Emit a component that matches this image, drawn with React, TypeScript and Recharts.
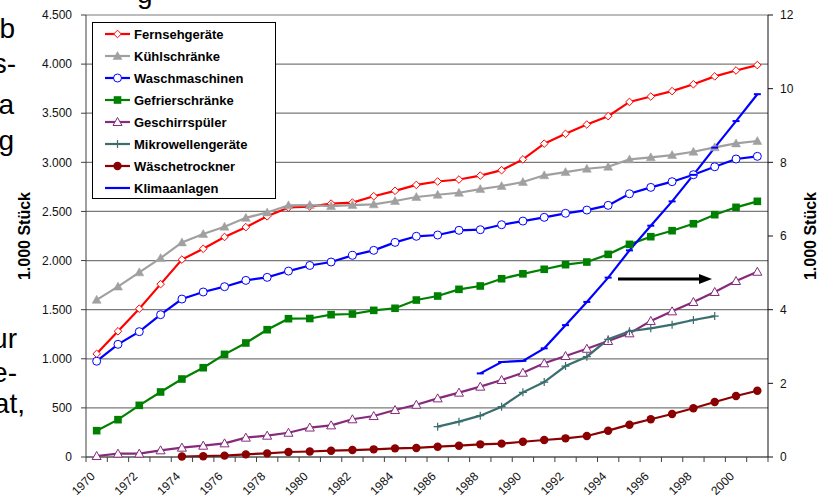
import { CartesianGrid, Line, LineChart, XAxis, YAxis } from 'recharts';

const years = [
  '1970', '1971', '1972', '1973', '1974', '1975', '1976', '1977', '1978', '1979',
  '1980', '1981', '1982', '1983', '1984', '1985', '1986', '1987', '1988', '1989',
  '1990', '1991', '1992', '1993', '1994', '1995', '1996', '1997', '1998', '1999',
  '2000', '2001',
];

const fernseh = [1050, 1280, 1510, 1760, 2010, 2120, 2240, 2340, 2450, 2540, 2550, 2580, 2590, 2655, 2710, 2770, 2805, 2825, 2865, 2920, 3030, 3190, 3290, 3385, 3470, 3615, 3670, 3725, 3795, 3875, 3935, 3990];
const kuehl = [1600, 1735, 1880, 2025, 2185, 2270, 2345, 2435, 2490, 2562, 2565, 2555, 2565, 2572, 2606, 2647, 2670, 2690, 2728, 2759, 2800, 2868, 2901, 2935, 2955, 3030, 3051, 3074, 3108, 3153, 3193, 3217];
const wasch = [975, 1147, 1276, 1449, 1608, 1680, 1734, 1798, 1829, 1893, 1950, 1985, 2053, 2104, 2185, 2247, 2260, 2308, 2314, 2365, 2402, 2440, 2481, 2514, 2562, 2680, 2745, 2803, 2874, 2955, 3034, 3061];
const gefrier = [268, 380, 526, 662, 794, 909, 1045, 1161, 1296, 1408, 1410, 1449, 1456, 1493, 1514, 1598, 1639, 1707, 1741, 1815, 1865, 1911, 1958, 1985, 2063, 2165, 2243, 2304, 2375, 2467, 2542, 2603];
const geschirr = [10, 34, 34, 68, 95, 115, 139, 197, 217, 247, 300, 322, 384, 417, 478, 532, 597, 655, 716, 784, 858, 954, 1028, 1102, 1181, 1259, 1385, 1483, 1578, 1680, 1792, 1886];
const mikro = [null, null, null, null, null, null, null, null, null, null, null, null, null, null, null, null, 309, 360, 421, 512, 658, 763, 926, 1021, 1198, 1280, 1310, 1347, 1395, 1435, null, null];
const trockner = [null, null, null, null, 5, 8, 14, 27, 37, 51, 56, 64, 71, 78, 88, 92, 105, 115, 129, 136, 155, 173, 190, 214, 268, 329, 384, 438, 496, 560, 621, 675];
// Klimaanlagen auf der rechten Achse
const klima = [null, null, null, null, null, null, null, null, null, null, null, null, null, null, null, null, null, null, 2.27, 2.58, 2.61, 2.95, 3.58, 4.21, 4.87, 5.61, 6.28, 6.94, 7.66, 8.4, 9.12, 9.85];

const leftTicks = [0, 500, 1000, 1500, 2000, 2500, 3000, 3500, 4000, 4500];
const rightTicks = [0, 2, 4, 6, 8, 10, 12];

const data = years.map((year, i) => ({
  year,
  fernseh: fernseh[i],
  kuehl: kuehl[i],
  wasch: wasch[i],
  gefrier: gefrier[i],
  geschirr: geschirr[i],
  mikro: mikro[i],
  trockner: trockner[i],
  klima: klima[i],
}));

const FONT = '"Liberation Sans", Arial, sans-serif';
const W = 825;
const H = 500;
const PLOT_LEFT = 86;
const PLOT_RIGHT = 768;
const STEP = (PLOT_RIGHT - PLOT_LEFT) / years.length;

type Kind = 'diamond' | 'triangle' | 'circle' | 'square' | 'openTriangle' | 'plus' | 'dot' | 'dash';

const series: { key: string; name: string; color: string; kind: Kind; axis: string }[] = [
  { key: 'fernseh', name: 'Fernsehgeräte', color: '#FF0000', kind: 'diamond', axis: 'left' },
  { key: 'kuehl', name: 'Kühlschränke', color: '#A0A0A0', kind: 'triangle', axis: 'left' },
  { key: 'wasch', name: 'Waschmaschinen', color: '#0000FF', kind: 'circle', axis: 'left' },
  { key: 'gefrier', name: 'Gefrierschränke', color: '#008000', kind: 'square', axis: 'left' },
  { key: 'geschirr', name: 'Geschirrspüler', color: '#852A7C', kind: 'openTriangle', axis: 'left' },
  { key: 'mikro', name: 'Mikrowellengeräte', color: '#3B6E6E', kind: 'plus', axis: 'left' },
  { key: 'trockner', name: 'Wäschetrockner', color: '#8B0000', kind: 'dot', axis: 'left' },
  { key: 'klima', name: 'Klimaanlagen', color: '#0000FF', kind: 'dash', axis: 'right' },
];

function Marker({ kind, cx, cy, color }: { kind: Kind; cx: number; cy: number; color: string }) {
  switch (kind) {
    case 'diamond':
      return (
        <polygon
          points={`${cx},${cy - 3.8} ${cx + 3.8},${cy} ${cx},${cy + 3.8} ${cx - 3.8},${cy}`}
          fill="#fff"
          stroke={color}
          strokeWidth={1}
        />
      );
    case 'triangle':
      return (
        <polygon
          points={`${cx},${cy - 4.5} ${cx + 4.5},${cy + 3.5} ${cx - 4.5},${cy + 3.5}`}
          fill={color}
          stroke={color}
          strokeWidth={0.5}
        />
      );
    case 'circle':
      return <circle cx={cx} cy={cy} r={4} fill="#fff" stroke={color} strokeWidth={1} />;
    case 'square':
      return <rect x={cx - 3.8} y={cy - 3.8} width={7.6} height={7.6} fill={color} />;
    case 'openTriangle':
      return (
        <polygon
          points={`${cx},${cy - 4.5} ${cx + 4.5},${cy + 3.5} ${cx - 4.5},${cy + 3.5}`}
          fill="#fff"
          stroke={color}
          strokeWidth={1}
        />
      );
    case 'plus':
      return (
        <path d={`M${cx - 4},${cy}H${cx + 4}M${cx},${cy - 4}V${cy + 4}`} stroke={color} strokeWidth={1.2} />
      );
    case 'dot':
      return <circle cx={cx} cy={cy} r={4.2} fill={color} />;
    case 'dash':
      return <path d={`M${cx - 3.5},${cy}H${cx + 3.5}`} stroke={color} strokeWidth={2} />;
  }
  return null;
}

function makeDot(kind: Kind, color: string) {
  return (props: any) => {
    const { cx, cy, index, value } = props;
    if (cx == null || cy == null || value == null) return <g key={`e-${index}`} />;
    return (
      <g key={`d-${index}`}>
        <Marker kind={kind} cx={cx} cy={cy} color={color} />
      </g>
    );
  };
}

function fmt(v: number) {
  if (v < 1000) return String(v);
  return `${Math.floor(v / 1000)}.${String(v % 1000).padStart(3, '0')}`;
}

function YearTick(props: any) {
  const { x, y, index, payload } = props;
  const axisY = y - 5;
  return (
    <g>
      <line x1={x - STEP / 2} x2={x - STEP / 2} y1={axisY} y2={axisY + 5} stroke="#404040" />
      {index === years.length - 1 && (
        <line x1={x + STEP / 2} x2={x + STEP / 2} y1={axisY} y2={axisY + 5} stroke="#404040" />
      )}
      {index % 2 === 0 && (
        <text
          transform={`translate(${x - 4},${y + 12}) rotate(-45)`}
          textAnchor="end"
          dy="0.35em"
          fontSize={12}
          fontFamily={FONT}
          fill="#111"
        >
          {payload.value}
        </text>
      )}
    </g>
  );
}

const leftFragments = [
  { t: 'b', x: 15, y: 38 },
  { t: 's-', x: 16, y: 73 },
  { t: 'a', x: 14, y: 114 },
  { t: 'g', x: 14, y: 150 },
  { t: 'ur', x: 17, y: 348 },
  { t: 'e-', x: 17, y: 382 },
  { t: 'at,', x: 25, y: 413 },
];

export default function App() {
  return (
    <div style={{ position: 'absolute', left: 0, top: 0, width: W, height: H, background: '#fff', overflow: 'hidden' }}>
      <LineChart width={W} height={H} data={data} margin={{ top: 15, right: 0, bottom: 0, left: 0 }}>
        <CartesianGrid yAxisId="left" vertical={false} stroke="#7a7a7a" strokeWidth={1.2} />
        <XAxis
          dataKey="year"
          interval={0}
          height={43}
          padding={{ left: STEP / 2, right: STEP / 2 }}
          tickSize={5}
          tickMargin={0}
          tickLine={false}
          axisLine={{ stroke: '#404040' }}
          tick={(p: any) => <YearTick {...p} />}
        />
        <YAxis
          yAxisId="left"
          width={86}
          domain={[0, 4500]}
          ticks={leftTicks}
          tickFormatter={fmt}
          tickSize={5}
          tickMargin={9}
          axisLine={{ stroke: '#404040' }}
          tickLine={{ stroke: '#404040' }}
          tick={{ fontSize: 12, fontFamily: FONT, fill: '#111' }}
        />
        <YAxis
          yAxisId="right"
          orientation="right"
          width={57}
          domain={[0, 12]}
          ticks={rightTicks}
          tickSize={5}
          tickMargin={7}
          axisLine={{ stroke: '#111' }}
          tickLine={{ stroke: '#111' }}
          tick={{ fontSize: 12, fontFamily: FONT, fill: '#111' }}
        />
        {series.map((s) => (
          <Line
            key={s.key}
            yAxisId={s.axis}
            dataKey={s.key}
            name={s.name}
            stroke={s.color}
            strokeWidth={2.2}
            dot={makeDot(s.kind, s.color)}
            activeDot={false}
            connectNulls={false}
            isAnimationActive={false}
          />
        ))}
      </LineChart>

      <svg
        width={W}
        height={H}
        style={{ position: 'absolute', left: 0, top: 0, pointerEvents: 'none' }}
        fontFamily={FONT}
      >
        {leftFragments.map((f) => (
          <text key={f.t + f.y} x={f.x} y={f.y} textAnchor="end" fontSize={28} fill="#000">
            {f.t}
          </text>
        ))}
        <text x={137} y={3} fontSize={28} fill="#000">
          g
        </text>

        <text
          transform="translate(24,236) rotate(-90)"
          textAnchor="middle"
          dominantBaseline="central"
          fontSize={16}
          fontWeight="bold"
          fill="#000"
        >
          1.000 Stück
        </text>
        <text
          transform="translate(810,236) rotate(-90)"
          textAnchor="middle"
          dominantBaseline="central"
          fontSize={16}
          fontWeight="bold"
          fill="#000"
        >
          1.000 Stück
        </text>

        <line x1={618} y1={279} x2={701} y2={279} stroke="#000" strokeWidth={3} />
        <polygon points="699,274 712,279 699,284" fill="#000" />

        <rect x={92.5} y={22.5} width={183} height={176} fill="#fff" stroke="#000" strokeWidth={1} />
        {series.map((s, i) => {
          const cy = 34 + i * 22;
          return (
            <g key={s.key}>
              <line x1={105} x2={130} y1={cy} y2={cy} stroke={s.color} strokeWidth={2.2} />
              <Marker kind={s.kind} cx={117.5} cy={cy} color={s.color} />
              <text x={134} y={cy + 4.5} fontSize={13} fontWeight="bold" fill="#000">
                {s.name}
              </text>
            </g>
          );
        })}
      </svg>
    </div>
  );
}
